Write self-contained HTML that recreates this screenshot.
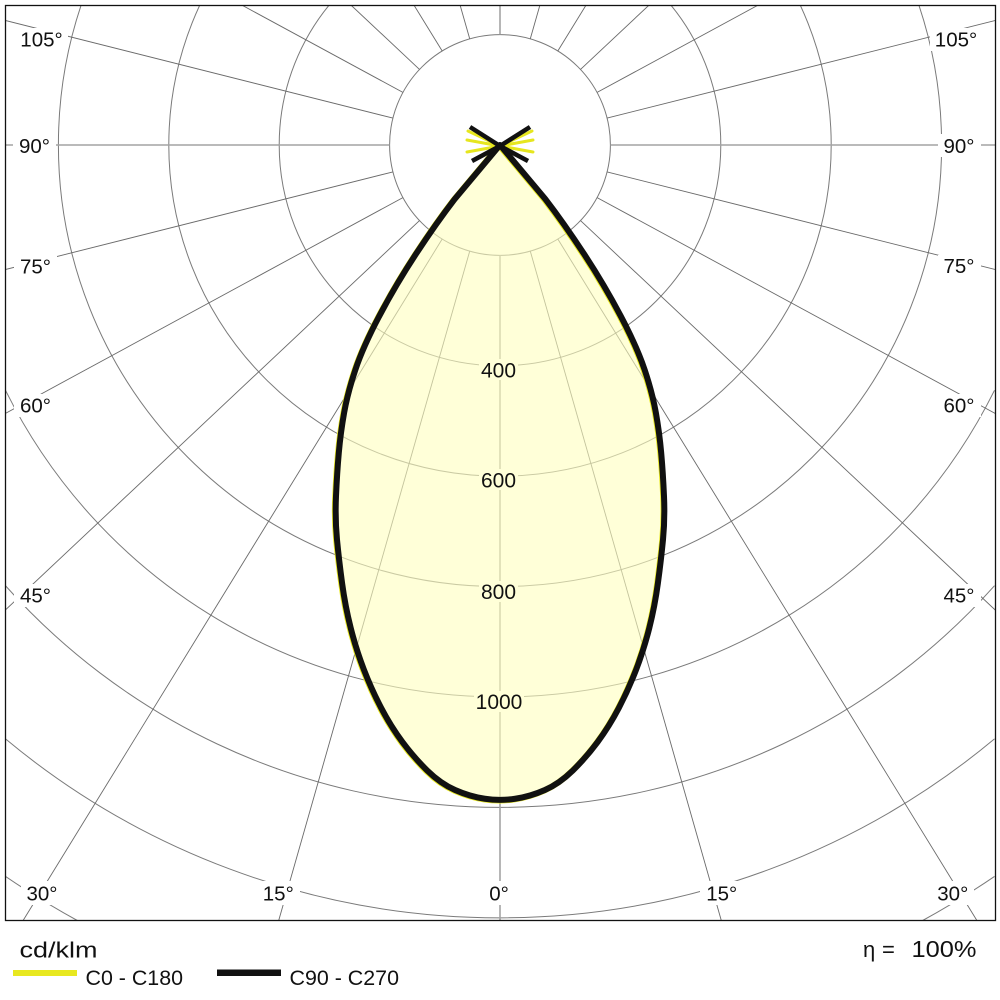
<!DOCTYPE html>
<html>
<head>
<meta charset="utf-8">
<style>
  html, body { margin: 0; padding: 0; background: #fff; width: 1000px; height: 1000px; overflow: hidden; }
  svg { display: block; overflow: hidden; }
  text { font-family: "Liberation Sans", Arial, sans-serif; fill: #111; }
</style>
</head>
<body>
<svg width="1000" height="1000" viewBox="0 0 1000 1000" xmlns="http://www.w3.org/2000/svg">
  <defs>
    <clipPath id="c"><rect x="5.5" y="5.5" width="990" height="915"/></clipPath>
  </defs>
  <rect width="1000" height="1000" fill="#fff"/>

  <g clip-path="url(#c)">
    <!-- circles -->
    <g fill="none" stroke="#7a7a7a" stroke-width="1">
      <circle cx="500" cy="145" r="110.4"/>
      <circle cx="500" cy="145" r="220.8"/>
      <circle cx="500" cy="145" r="331.2"/>
      <circle cx="500" cy="145" r="441.6"/>
      <path d="M5.5,390.3 A552,552 0 0 0 994.5,390.3"/>
      <path d="M5.5,585.7 A662.4,662.4 0 0 0 994.5,585.7"/>
      <path d="M5.5,738.9 A772.8,772.8 0 0 0 994.5,738.9"/>
      <path d="M5.5,876.4 A883.2,883.2 0 0 0 77.3,920.5"/>
      <path d="M922.7,920.5 A883.2,883.2 0 0 0 994.5,876.4"/>
    </g>
    <!-- radial lines -->
    <g stroke="#6a6a6a" stroke-width="0.9">
      <line x1="530.3" y1="251.2" x2="721.3" y2="920.5"/>
      <line x1="557.8" y1="239.0" x2="976.9" y2="920.5"/>
      <line x1="580.5" y1="220.6" x2="995.5" y2="610.3"/>
      <line x1="597.1" y1="197.6" x2="995.5" y2="413.6"/>
      <line x1="607.1" y1="171.9" x2="995.5" y2="269.6"/>
      <line x1="607.1" y1="118.1" x2="995.5" y2="20.4"/>
      <line x1="597.1" y1="92.4" x2="757.4" y2="5.5"/>
      <line x1="580.5" y1="69.4" x2="648.6" y2="5.5"/>
      <line x1="557.8" y1="51.0" x2="585.8" y2="5.5"/>
      <line x1="530.3" y1="38.8" x2="539.8" y2="5.5"/>

      <line x1="469.7" y1="251.2" x2="278.7" y2="920.5"/>
      <line x1="442.2" y1="239.0" x2="23.1" y2="920.5"/>
      <line x1="419.5" y1="220.6" x2="5" y2="610.3"/>
      <line x1="402.9" y1="197.6" x2="5" y2="413.6"/>
      <line x1="392.9" y1="171.9" x2="5" y2="269.6"/>
      <line x1="392.9" y1="118.1" x2="5" y2="20.4"/>
      <line x1="402.9" y1="92.4" x2="242.6" y2="5.5"/>
      <line x1="419.5" y1="69.4" x2="351.4" y2="5.5"/>
      <line x1="442.2" y1="51.0" x2="414.2" y2="5.5"/>
      <line x1="469.7" y1="38.8" x2="460.2" y2="5.5"/>
    </g>
    <g stroke="#a3a3a3" stroke-width="1.6">
      <line x1="500" y1="255.4" x2="500" y2="920.5"/>
      <line x1="500" y1="34.6" x2="500" y2="5"/>
      <line x1="610.4" y1="145" x2="995.5" y2="145"/>
      <line x1="389.6" y1="145" x2="5" y2="145"/>
    </g>

    <!-- lobe fill -->
    <path d="M500,145 L454.6,199.15 Q436.2,223.1 416.0,253.9 Q395.8,284.7 379.4,315.8 Q363.0,346.9 355.35,369.8 Q347.7,392.7 344.15,412.6 Q340.6,432.5 338.8,452.85 Q337.0,473.2 336.0,496.1 Q335.0,519.0 337.0,539.7 Q339.0,560.4 342.1,583.25 Q345.2,606.1 350.65,627.75 Q356.1,649.4 363.8,669.4 Q371.5,689.4 381.15,707.9 Q390.8,726.4 402.45,742.05 Q414.1,757.7 427.3,770.6 Q440.5,783.5 455.1,790.0 Q469.7,796.5 484.85,798.75 Q500,801 515.15,798.75 Q530.3,796.5 544.9,790.0 Q559.5,783.5 572.7,770.6 Q585.9,757.7 597.55,742.05 Q609.2,726.4 618.85,707.9 Q628.5,689.4 636.2,669.4 Q643.9,649.4 649.35,627.75 Q654.8,606.1 657.9,583.25 Q661.0,560.4 663.0,539.7 Q665.0,519.0 664.0,496.1 Q663.0,473.2 661.2,452.85 Q659.4,432.5 655.85,412.6 Q652.3,392.7 644.65,369.8 Q637.0,346.9 620.6,315.8 Q604.2,284.7 584.0,253.9 Q563.8,223.1 545.4,199.15 Z"
          fill="#FFFFBE" fill-opacity="0.6" stroke="none"/>

    <!-- value labels -->
    <g fill="#FFFFD8">
      <rect x="479" y="359" width="39" height="21"/>
      <rect x="479" y="469" width="39" height="21"/>
      <rect x="479" y="581" width="39" height="21"/>
      <rect x="474" y="691" width="50" height="21"/>
    </g>
    <g font-size="21" text-anchor="middle">
      <text x="498.5" y="377.5" fill="#222">400</text>
      <text x="498.5" y="487.5" fill="#222">600</text>
      <text x="498.5" y="599" fill="#222">800</text>
      <text x="499" y="709" fill="#222">1000</text>
    </g>

    <!-- center back-light spikes -->
    <g stroke="#e6e61e" stroke-width="3" stroke-linecap="round">
      <line x1="500" y1="146" x2="468" y2="131"/>
      <line x1="500" y1="146" x2="467" y2="140"/>
      <line x1="500" y1="146" x2="467" y2="152"/>
      <line x1="500" y1="146" x2="532" y2="131"/>
      <line x1="500" y1="146" x2="533" y2="140"/>
      <line x1="500" y1="146" x2="533" y2="152"/>
    </g>

    <!-- yellow C0-C180 curve (mostly hidden) -->
    <path d="M500,145 L454.6,199.15 Q436.2,223.1 416.0,253.9 Q395.8,284.7 379.4,315.8 Q363.0,346.9 355.35,369.8 Q347.7,392.7 344.15,412.6 Q340.6,432.5 338.8,452.85 Q337.0,473.2 336.0,496.1 Q335.0,519.0 337.0,539.7 Q339.0,560.4 342.1,583.25 Q345.2,606.1 350.65,627.75 Q356.1,649.4 363.8,669.4 Q371.5,689.4 381.15,707.9 Q390.8,726.4 402.45,742.05 Q414.1,757.7 427.3,770.6 Q440.5,783.5 455.1,790.0 Q469.7,796.5 484.85,798.75 Q500,801 515.15,798.75 Q530.3,796.5 544.9,790.0 Q559.5,783.5 572.7,770.6 Q585.9,757.7 597.55,742.05 Q609.2,726.4 618.85,707.9 Q628.5,689.4 636.2,669.4 Q643.9,649.4 649.35,627.75 Q654.8,606.1 657.9,583.25 Q661.0,560.4 663.0,539.7 Q665.0,519.0 664.0,496.1 Q663.0,473.2 661.2,452.85 Q659.4,432.5 655.85,412.6 Q652.3,392.7 644.65,369.8 Q637.0,346.9 620.6,315.8 Q604.2,284.7 584.0,253.9 Q563.8,223.1 545.4,199.15 Z"
          fill="none" stroke="#e8e820" stroke-width="6" stroke-linejoin="round" transform="translate(-0.8,0.6)"/>
    <!-- black C90-C270 curve -->
    <path d="M500,145 L454.6,199.15 Q436.2,223.1 416.0,253.9 Q395.8,284.7 379.4,315.8 Q363.0,346.9 355.35,369.8 Q347.7,392.7 344.15,412.6 Q340.6,432.5 338.8,452.85 Q337.0,473.2 336.0,496.1 Q335.0,519.0 337.0,539.7 Q339.0,560.4 342.1,583.25 Q345.2,606.1 350.65,627.75 Q356.1,649.4 363.8,669.4 Q371.5,689.4 381.15,707.9 Q390.8,726.4 402.45,742.05 Q414.1,757.7 427.3,770.6 Q440.5,783.5 455.1,790.0 Q469.7,796.5 484.85,798.75 Q500,801 515.15,798.75 Q530.3,796.5 544.9,790.0 Q559.5,783.5 572.7,770.6 Q585.9,757.7 597.55,742.05 Q609.2,726.4 618.85,707.9 Q628.5,689.4 636.2,669.4 Q643.9,649.4 649.35,627.75 Q654.8,606.1 657.9,583.25 Q661.0,560.4 663.0,539.7 Q665.0,519.0 664.0,496.1 Q663.0,473.2 661.2,452.85 Q659.4,432.5 655.85,412.6 Q652.3,392.7 644.65,369.8 Q637.0,346.9 620.6,315.8 Q604.2,284.7 584.0,253.9 Q563.8,223.1 545.4,199.15 Z"
          fill="none" stroke="#111" stroke-width="6" stroke-linejoin="round"/>
    <g stroke="#111" stroke-width="4.5" stroke-linecap="butt">
      <line x1="500" y1="146" x2="470" y2="127"/>
      <line x1="500" y1="146" x2="530" y2="127"/>
      <line x1="500" y1="146" x2="472" y2="161"/>
      <line x1="500" y1="146" x2="528" y2="161"/>
    </g>

    <!-- angle label backgrounds -->
    <g fill="#fff">
      <rect x="15" y="28" width="53" height="23"/>
      <rect x="13" y="134" width="43" height="23"/>
      <rect x="14" y="255" width="43" height="23"/>
      <rect x="14" y="394" width="43" height="23"/>
      <rect x="14" y="584" width="43" height="23"/>
      <rect x="930" y="28" width="53" height="23"/>
      <rect x="938" y="134" width="43" height="23"/>
      <rect x="938" y="255" width="43" height="23"/>
      <rect x="938" y="394" width="43" height="23"/>
      <rect x="938" y="584" width="43" height="23"/>
      <rect x="21" y="881" width="42" height="24"/>
      <rect x="257" y="881" width="43" height="24"/>
      <rect x="486" y="881" width="27" height="24"/>
      <rect x="700" y="881" width="43" height="24"/>
      <rect x="931" y="881" width="43" height="24"/>
    </g>
  </g>

  <!-- angle labels -->
  <g font-size="20.5" text-anchor="middle">
    <text x="41.5" y="46.7">105°</text>
    <text x="34.5" y="153">90°</text>
    <text x="35.5" y="273.3">75°</text>
    <text x="35.5" y="412.5">60°</text>
    <text x="35.5" y="602.5">45°</text>
    <text x="956" y="46.7">105°</text>
    <text x="959" y="153">90°</text>
    <text x="959" y="273">75°</text>
    <text x="959" y="412.5">60°</text>
    <text x="959" y="602.5">45°</text>
    <text x="42" y="900.5">30°</text>
    <text x="278.3" y="900.5">15°</text>
    <text x="499" y="900.5">0°</text>
    <text x="721.7" y="900.5">15°</text>
    <text x="952.8" y="900.5">30°</text>
  </g>

  <!-- frame -->
  <rect x="5.5" y="5.5" width="990" height="915" fill="none" stroke="#111" stroke-width="1.3"/>

  <!-- legend -->
  <text x="19.5" y="957.5" font-size="22" textLength="78" lengthAdjust="spacingAndGlyphs">cd/klm</text>
  <rect x="13" y="970" width="64" height="6" fill="#e8e820"/>
  <text x="85.5" y="985" font-size="21.5" textLength="97.5" lengthAdjust="spacingAndGlyphs">C0 - C180</text>
  <rect x="217" y="969.5" width="64" height="6.5" fill="#111"/>
  <text x="289.5" y="985" font-size="21.5" textLength="109.5" lengthAdjust="spacingAndGlyphs">C90 - C270</text>

  <text x="863" y="957" font-size="22">η</text>
  <text x="882" y="957" font-size="22">=</text>
  <text x="911.5" y="957" font-size="23" textLength="65" lengthAdjust="spacingAndGlyphs">100%</text>
</svg>
</body>
</html>
